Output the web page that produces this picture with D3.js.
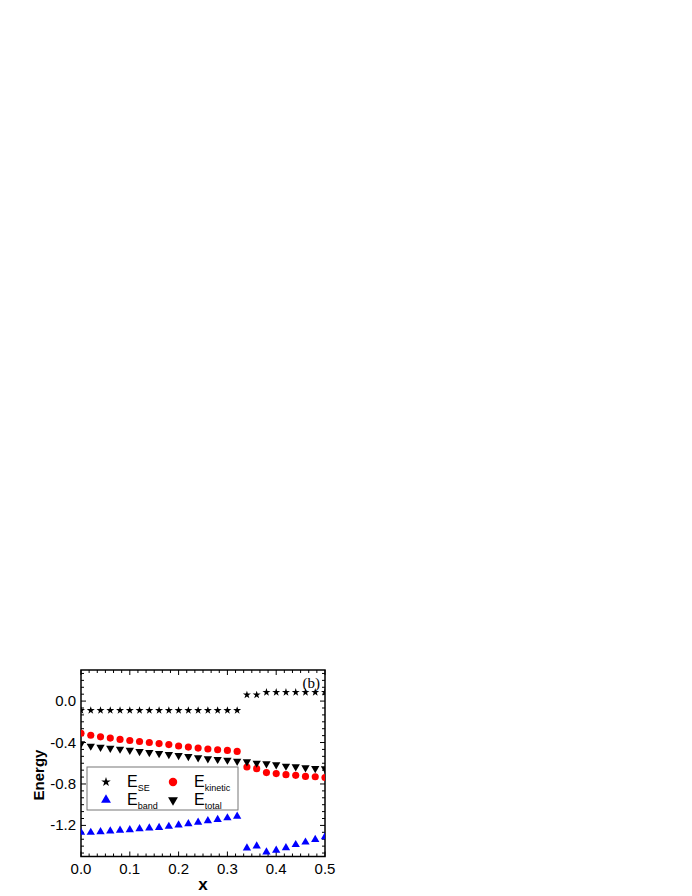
<!DOCTYPE html>
<html>
<head>
<meta charset="utf-8">
<script src="https://cdn.jsdelivr.net/npm/d3@7"></script>
<style>
  body { margin: 0; background: #fff; }
  svg { display: block; font-family: "Liberation Sans", Arial, sans-serif; }
</style>
</head>
<body>
<div id="chart"></div>
<script>
// x values (doping)
const xValues = [0, 0.02, 0.04, 0.06, 0.08, 0.10, 0.12, 0.14, 0.16, 0.18, 0.20, 0.22, 0.24,
  0.26, 0.28, 0.30, 0.32, 0.34, 0.36, 0.38, 0.40, 0.42, 0.44, 0.46, 0.48, 0.50];

// energies
const eSE = [-0.09, -0.09, -0.09, -0.09, -0.09, -0.09, -0.09, -0.09, -0.09, -0.09, -0.09, -0.09,
  -0.09, -0.09, -0.09, -0.09, -0.09, 0.06, 0.06, 0.085, 0.085, 0.085, 0.085, 0.085, 0.085, 0.085];
const eKinetic = [-0.31, -0.33, -0.345, -0.357, -0.37, -0.38, -0.39, -0.40, -0.41, -0.42, -0.434,
  -0.444, -0.454, -0.463, -0.47, -0.476, -0.486, -0.636, -0.652, -0.69, -0.70, -0.71, -0.717,
  -0.727, -0.73, -0.737];
const eBand = [-1.268, -1.268, -1.262, -1.255, -1.248, -1.242, -1.232, -1.226, -1.22, -1.21,
  -1.197, -1.184, -1.171, -1.155, -1.144, -1.128, -1.112, -1.418, -1.40, -1.457, -1.44, -1.417,
  -1.386, -1.362, -1.337, -1.31];
const eTotal = [-0.412, -0.434, -0.444, -0.454, -0.463, -0.473, -0.486, -0.495, -0.505, -0.515,
  -0.524, -0.534, -0.546, -0.556, -0.562, -0.569, -0.579, -0.585, -0.598, -0.604, -0.614,
  -0.627, -0.633, -0.643, -0.649, -0.652];

// ticks
const xTicks = [0, 0.1, 0.2, 0.3, 0.4, 0.5];
const yTicks = [0.0, -0.4, -0.8, -1.2];

const series = [
  {name: "SE", values: eSE, symbol: d3.symbolStar, size: 20, color: "#000", rotate: 0},
  {name: "kinetic", values: eKinetic, symbol: d3.symbolCircle, size: 40, color: "#ff0000", rotate: 0},
  {name: "band", values: eBand, symbol: d3.symbolTriangle, size: 30, color: "#0000ff", rotate: 0},
  {name: "total", values: eTotal, symbol: d3.symbolTriangle, size: 30, color: "#000", rotate: 180}
];

const width = 692, height = 896;
const plotLeft = 81, plotRight = 325, plotTop = 670, plotBottom = 856.5;

const x = d3.scaleLinear([0, 0.5], [plotLeft, plotRight]);
const y = d3.scaleLinear([-1.5, 0.3], [plotBottom, plotTop]);

const svg = d3.create("svg")
    .attr("width", width)
    .attr("height", height)
    .attr("viewBox", [0, 0, width, height]);

svg.append("clipPath").attr("id", "plot")
  .append("rect")
    .attr("x", plotLeft).attr("y", plotTop)
    .attr("width", plotRight - plotLeft).attr("height", plotBottom - plotTop);

// minor ticks: 5 minor between majors
const xMinor = d3.range(0, 31).map(i => i * 0.1 / 6).filter(v => v <= 0.5 + 1e-9);
const yMinor = d3.range(-22, 5).map(i => i * 0.4 / 6);

const majLen = 5, minLen = 3;
const ticks = svg.append("g").attr("stroke", "#000").attr("stroke-width", 1);

// bottom + top
xMinor.forEach(v => {
  const isMajor = xTicks.some(t => Math.abs(t - v) < 1e-6);
  const len = isMajor ? majLen : minLen;
  ticks.append("line").attr("x1", x(v)).attr("x2", x(v)).attr("y1", plotBottom).attr("y2", plotBottom - len);
  ticks.append("line").attr("x1", x(v)).attr("x2", x(v)).attr("y1", plotTop).attr("y2", plotTop + len);
});
// left + right
yMinor.forEach(v => {
  const isMajor = yTicks.some(t => Math.abs(t - v) < 1e-6);
  const len = isMajor ? majLen : minLen;
  ticks.append("line").attr("y1", y(v)).attr("y2", y(v)).attr("x1", plotLeft).attr("x2", plotLeft + len);
  ticks.append("line").attr("y1", y(v)).attr("y2", y(v)).attr("x1", plotRight).attr("x2", plotRight - len);
});

// frame
svg.append("rect")
    .attr("x", plotLeft).attr("y", plotTop)
    .attr("width", plotRight - plotLeft).attr("height", plotBottom - plotTop)
    .attr("fill", "none")
    .attr("stroke", "#000")
    .attr("stroke-width", 1.5);

// tick labels
svg.append("g")
  .selectAll("text")
  .data(xTicks)
  .join("text")
    .attr("x", d => x(d))
    .attr("y", plotBottom + 17)
    .attr("text-anchor", "middle")
    .attr("font-size", 15)
    .text(d => d.toFixed(1));

svg.append("g")
  .selectAll("text")
  .data(yTicks)
  .join("text")
    .attr("x", plotLeft - 5)
    .attr("y", d => y(d) + 5)
    .attr("text-anchor", "end")
    .attr("font-size", 15)
    .text(d => d.toFixed(1));

// axis titles
svg.append("text")
    .attr("x", (plotLeft + plotRight) / 2)
    .attr("y", 890)
    .attr("text-anchor", "middle")
    .attr("font-size", 17)
    .attr("font-weight", "bold")
    .text("x");

svg.append("text")
    .attr("transform", `translate(44,775) rotate(-90)`)
    .attr("text-anchor", "middle")
    .attr("font-size", 15)
    .attr("font-weight", "bold")
    .text("Energy");

// panel label
svg.append("text")
    .attr("x", 320)
    .attr("y", 688)
    .attr("text-anchor", "end")
    .attr("font-family", "'Liberation Serif', 'Times New Roman', serif")
    .attr("font-size", 15)
    .text("(b)");

// markers
const marks = svg.append("g").attr("clip-path", "url(#plot)");
series.forEach(s => {
  marks.append("g")
    .selectAll("path")
    .data(s.values)
    .join("path")
      .attr("d", d3.symbol(s.symbol, s.size))
      .attr("fill", s.color)
      .attr("transform", (d, i) => `translate(${x(xValues[i])},${y(d)}) rotate(${s.rotate})`);
});

// legend
const legend = svg.append("g");
legend.append("rect")
    .attr("x", 87).attr("y", 767)
    .attr("width", 151).attr("height", 43)
    .attr("fill", "#fff")
    .attr("stroke", "#777")
    .attr("stroke-width", 1);

const legendPos = [
  {s: series[0], sx: 106, ty: 787},
  {s: series[1], sx: 173, ty: 787},
  {s: series[2], sx: 106, ty: 805},
  {s: series[3], sx: 173, ty: 805}
];
legendPos.forEach(({s, sx, ty}) => {
  legend.append("path")
      .attr("d", d3.symbol(s.symbol, s.size * 1.4))
      .attr("fill", s.color)
      .attr("transform", `translate(${sx},${ty - 5}) rotate(${s.rotate})`);
  const t = legend.append("text")
      .attr("x", sx + 21)
      .attr("y", ty)
      .attr("font-size", 16);
  t.append("tspan").text("E");
  t.append("tspan").attr("font-size", 9).attr("dy", 4).text(s.name);
});

document.getElementById("chart").appendChild(svg.node());
</script>
</body>
</html>
